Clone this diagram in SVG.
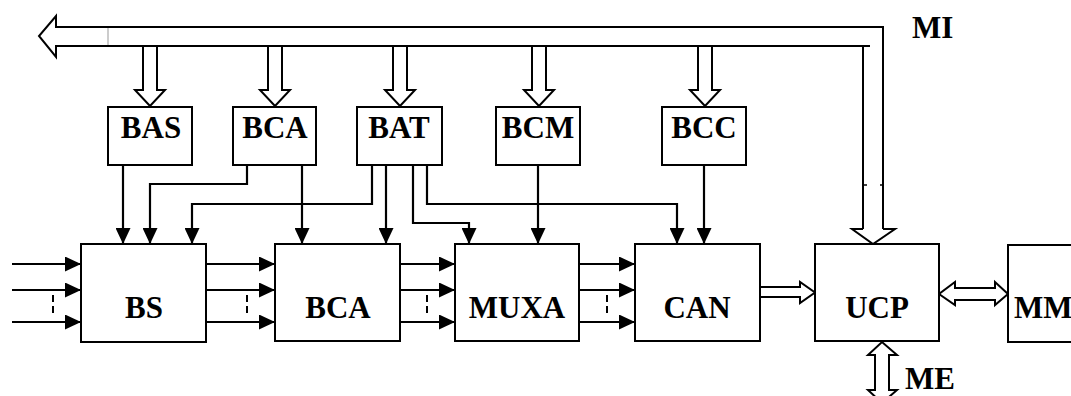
<svg xmlns="http://www.w3.org/2000/svg" width="1071" height="396" viewBox="0 0 1071 396">
<defs>
<style>
.box{fill:#fff;stroke:#000;stroke-width:2}
.lbl{font-family:"Liberation Serif","Times New Roman",serif;font-weight:bold;font-size:31px;fill:#000;text-anchor:middle}
.ln{fill:none;stroke:#000;stroke-width:2.2}
.bus{fill:#fff;stroke:#000;stroke-width:2}
.hol{fill:none;stroke:#000;stroke-width:2;stroke-linejoin:miter}
.dash{stroke:#000;stroke-width:2;stroke-dasharray:7,4;fill:none}
</style>
<marker id="ah" markerUnits="userSpaceOnUse" markerWidth="16" markerHeight="15" refX="16" refY="7.5" orient="auto">
<path d="M0,0 L16,7.5 L0,15 z" fill="#000"/>
</marker>
</defs>
<rect width="1071" height="396" fill="#fff"/>

<g id="connectors">
<!-- main bus MI -->
<polyline class="hol" points="883,229 883,27 56,27 56,16 39,36 56,57 56,46 870,46"/>
<line x1="863" y1="46" x2="863" y2="229" class="hol"/>
<polyline class="hol" points="863,229 852,229 873,244 895,229 883,229"/>
<line x1="108" y1="28" x2="108" y2="45" stroke="#bbb" stroke-width="1.5"/>
<line x1="863" y1="185" x2="867" y2="185" stroke="#000" stroke-width="1.5"/>
<line x1="880" y1="185" x2="883" y2="185" stroke="#000" stroke-width="1.5"/>
<!-- bus drops -->
<polyline class="hol" points="143,47 143,90 135,90 150,106 165,90 157,90 157,47"/>
<polyline class="hol" points="268,47 268,90 260,90 275,106 290,90 282,90 282,47"/>
<polyline class="hol" points="393,47 393,90 385,90 400,106 415,90 407,90 407,47"/>
<polyline class="hol" points="532,47 532,90 524,90 539,106 554,90 546,90 546,47"/>
<polyline class="hol" points="698,47 698,90 690,90 705,106 720,90 712,90 712,47"/>
<!-- control lines -->
<polyline class="ln" points="123,165 123,244" marker-end="url(#ah)"/>
<polyline class="ln" points="247,165 247,184 150,184 150,244" marker-end="url(#ah)"/>
<polyline class="ln" points="302,165 302,244" marker-end="url(#ah)"/>
<polyline class="ln" points="372,165 372,204 192,204 192,244" marker-end="url(#ah)"/>
<polyline class="ln" points="386,165 386,244" marker-end="url(#ah)"/>
<polyline class="ln" points="413,165 413,223 469,223 469,244" marker-end="url(#ah)"/>
<polyline class="ln" points="427,165 427,204 677,204 677,244" marker-end="url(#ah)"/>
<polyline class="ln" points="538,165 538,244" marker-end="url(#ah)"/>
<polyline class="ln" points="704,165 704,244" marker-end="url(#ah)"/>
<!-- data lines -->
<line class="ln" x1="12" y1="264" x2="81" y2="264" marker-end="url(#ah)"/>
<line class="ln" x1="12" y1="290" x2="81" y2="290" marker-end="url(#ah)"/>
<line class="ln" x1="12" y1="322" x2="81" y2="322" marker-end="url(#ah)"/>
<line class="dash" x1="53" y1="295" x2="53" y2="316"/>
<line class="ln" x1="206" y1="264" x2="275" y2="264" marker-end="url(#ah)"/>
<line class="ln" x1="206" y1="290" x2="275" y2="290" marker-end="url(#ah)"/>
<line class="ln" x1="206" y1="322" x2="275" y2="322" marker-end="url(#ah)"/>
<line class="dash" x1="247" y1="295" x2="247" y2="316"/>
<line class="ln" x1="400" y1="264" x2="455" y2="264" marker-end="url(#ah)"/>
<line class="ln" x1="400" y1="290" x2="455" y2="290" marker-end="url(#ah)"/>
<line class="ln" x1="400" y1="322" x2="455" y2="322" marker-end="url(#ah)"/>
<line class="dash" x1="427" y1="295" x2="427" y2="316"/>
<line class="ln" x1="579" y1="264" x2="635" y2="264" marker-end="url(#ah)"/>
<line class="ln" x1="579" y1="290" x2="635" y2="290" marker-end="url(#ah)"/>
<line class="ln" x1="579" y1="322" x2="635" y2="322" marker-end="url(#ah)"/>
<line class="dash" x1="607" y1="295" x2="607" y2="316"/>
<!-- CAN -> UCP -->
<polyline class="hol" points="760,287 800,287 800,282 815,292.5 800,303 800,297 760,297"/>
<!-- UCP <-> MM -->
<polygon class="hol" points="955,288 995,288 995,282 1008,294 995,305 995,300 955,300 955,305 939,294 955,282"/>
<!-- ME -->
<polygon class="hol" points="875,355 868,355 882,342 897,355 889,355 889,390 897,390 882,403 868,390 875,390"/>
</g>

<g id="BAS"><rect class="box" x="108" y="107" width="84" height="58"/><text class="lbl" x="151" y="138">BAS</text></g>
<g id="BCA_top"><rect class="box" x="233" y="107" width="83" height="58"/><text class="lbl" x="275" y="138">BCA</text></g>
<g id="BAT"><rect class="box" x="357" y="107" width="85" height="58"/><text class="lbl" x="399" y="138">BAT</text></g>
<g id="BCM"><rect class="box" x="496" y="107" width="84" height="58"/><text class="lbl" x="538" y="138">BCM</text></g>
<g id="BCC"><rect class="box" x="662" y="107" width="84" height="58"/><text class="lbl" x="704" y="138">BCC</text></g>

<g id="BS"><rect class="box" x="81" y="244" width="125" height="98"/><text class="lbl" x="144" y="318">BS</text></g>
<g id="BCA"><rect class="box" x="275" y="244" width="125" height="97"/><text class="lbl" x="338" y="318">BCA</text></g>
<g id="MUXA"><rect class="box" x="455" y="244" width="124" height="97"/><text class="lbl" x="517" y="318">MUXA</text></g>
<g id="CAN"><rect class="box" x="635" y="244" width="125" height="97"/><text class="lbl" x="697" y="318">CAN</text></g>
<g id="UCP"><rect class="box" x="815" y="244" width="124" height="97"/><text class="lbl" x="877" y="318">UCP</text></g>
<g id="MM"><rect class="box" x="1008" y="245" width="80" height="97"/><text class="lbl" x="1014" y="318" style="text-anchor:start">MM</text></g>

<g id="labels">
<text class="lbl" x="912" y="38" style="text-anchor:start">MI</text>
<text class="lbl" x="905" y="389" style="text-anchor:start">ME</text>
</g>
</svg>
